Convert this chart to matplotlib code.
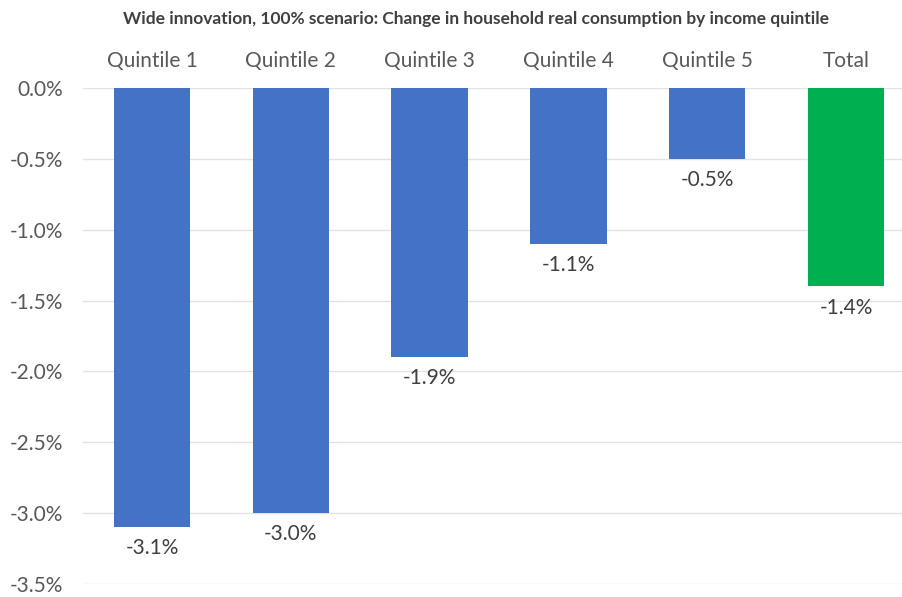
import matplotlib
matplotlib.use("Agg")
import matplotlib.pyplot as plt
from matplotlib.ticker import FuncFormatter

categories = ["Quintile 1", "Quintile 2", "Quintile 3", "Quintile 4", "Quintile 5", "Total"]
values = [-3.1, -3.0, -1.9, -1.1, -0.5, -1.4]
colors = ["#4472C4"] * 5 + ["#00B050"]
yticks = [0.0, -0.5, -1.0, -1.5, -2.0, -2.5, -3.0, -3.5]
title = "Wide innovation, 100% scenario: Change in household real consumption by income quintile"

W, H = 903, 597
fig = plt.figure(figsize=(W / 100, H / 100), dpi=100)
plt.rcParams["font.family"] = ["Lato", "DejaVu Sans"]

# axes spans pixel x 82..915 (right edge runs past the canvas), y 88..584
left, right = 82.6, 915.4
top, bottom = 88, 584
ax = fig.add_axes([left / W, 1 - bottom / H, (right - left) / W, (bottom - top) / H])

x = range(len(categories))
ax.bar(x, values, width=0.55, color=colors, zorder=3)
ax.set_xlim(-0.5, len(categories) - 0.5)
ax.set_ylim(-3.5, 0.0)
ax.set_yticks(yticks)
ax.yaxis.set_major_formatter(FuncFormatter(lambda v, _: f"{v:.1f}%"))
ax.grid(axis="y", color="#E3E3E3", linewidth=1, zorder=0)
for s in ax.spines.values():
    s.set_visible(False)
ax.tick_params(axis="y", length=0, pad=14, labelsize=15, labelcolor="#595959")

ax.xaxis.tick_top()
ax.set_xticks(list(x))
ax.set_xticklabels(categories)
ax.tick_params(axis="x", length=0, pad=12, labelsize=15, labelcolor="#595959")

for xi, v in zip(x, values):
    ax.annotate(f"{v:.1f}%", (xi, v), xytext=(0, -8), textcoords="offset points",
                ha="center", va="top", fontsize=15, color="#404040")

fig.text(476 / W, 1 - 19 / H, title, ha="center", va="center",
         fontsize=12.5, fontweight="bold", color="#404040")

fig.savefig("out.png", dpi=100)
